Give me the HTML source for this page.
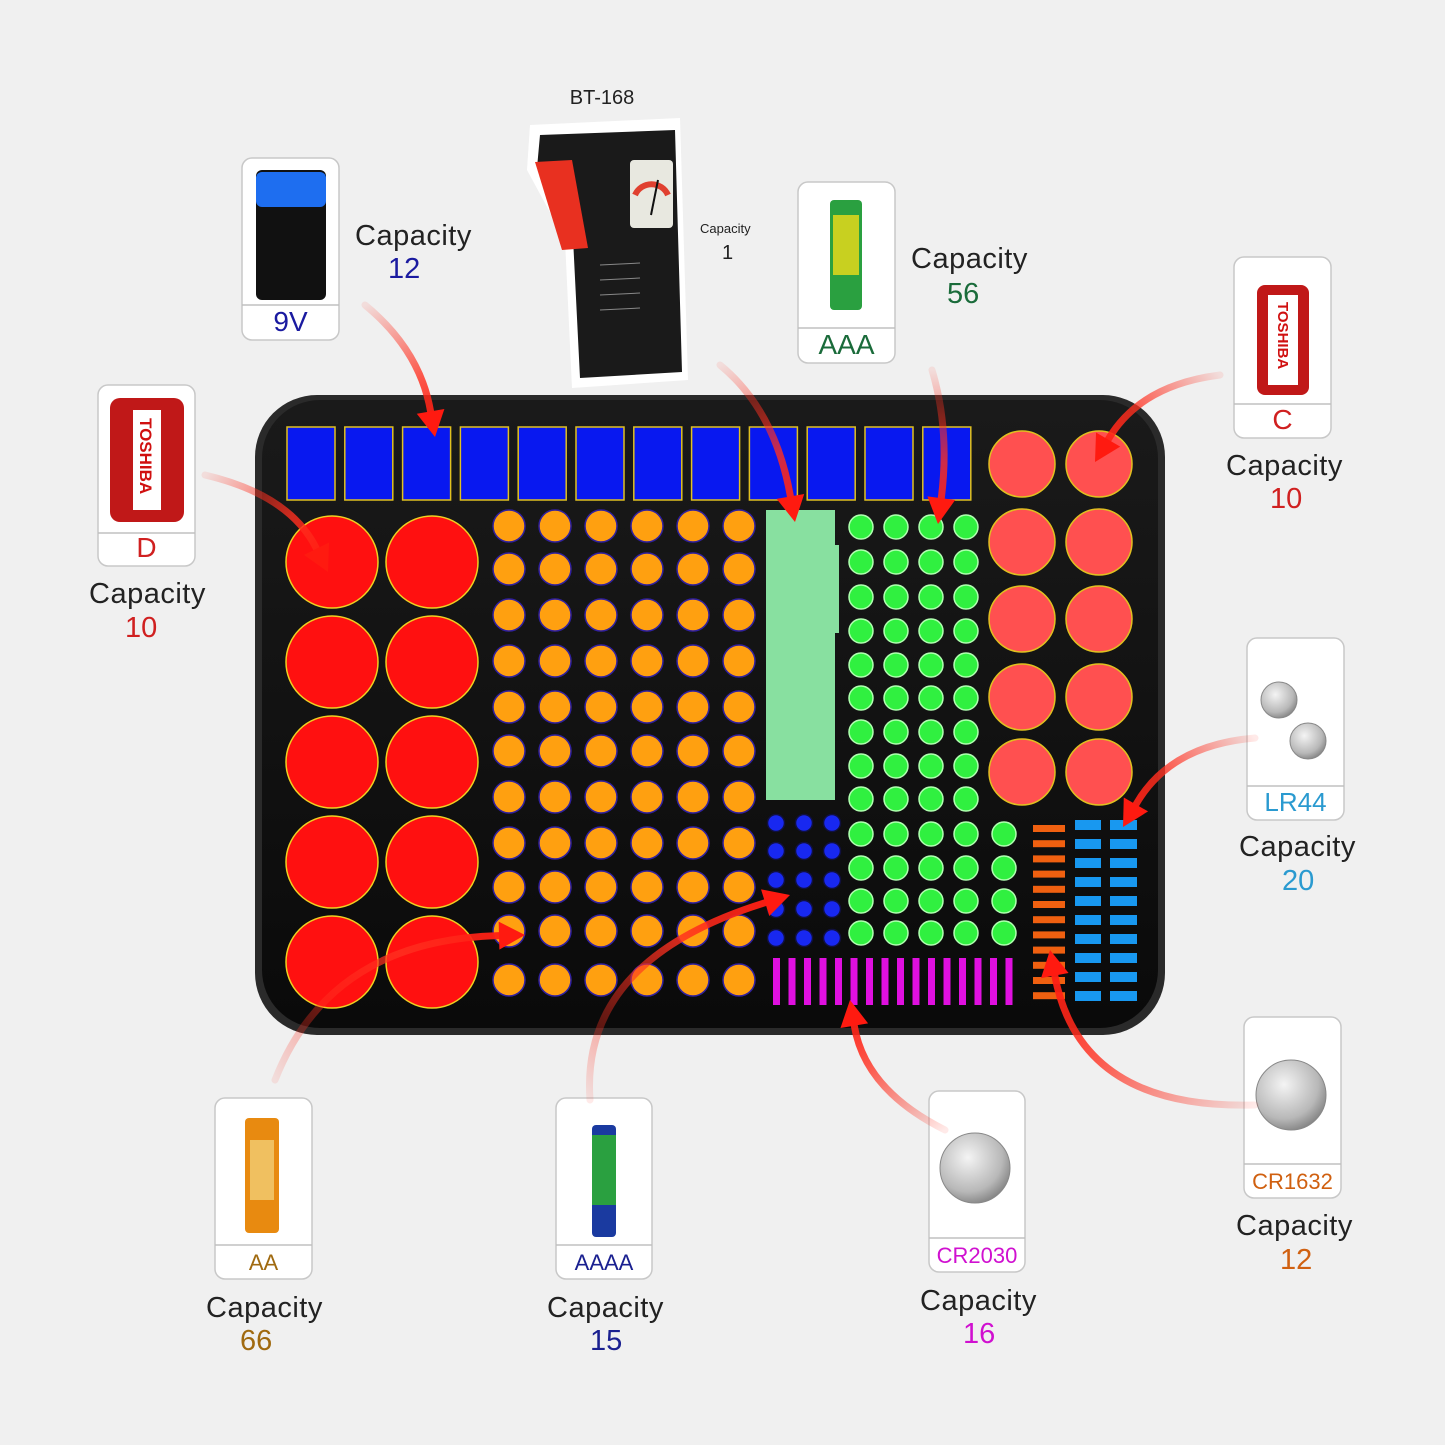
<!DOCTYPE html>
<html><head><meta charset="utf-8">
<style>
html,body{margin:0;padding:0;background:#f0f0f0;}
svg{display:block;}
text{font-family:"Liberation Sans","DejaVu Sans",sans-serif;}
</style></head>
<body>
<svg id="s" width="1445" height="1445" viewBox="0 0 1445 1445" xmlns="http://www.w3.org/2000/svg">
<defs>
<linearGradient id="trayg" x1="0" y1="0" x2="0" y2="1"><stop offset="0" stop-color="#1a1a1a"/><stop offset="1" stop-color="#0a0a0a"/></linearGradient>
<radialGradient id="coin" cx="0.4" cy="0.35" r="0.7"><stop offset="0" stop-color="#f4f4f4"/><stop offset="0.7" stop-color="#b8b8b8"/><stop offset="1" stop-color="#808080"/></radialGradient>
</defs>
<rect width="1445" height="1445" fill="#f0f0f0"/>
<rect x="255" y="395" width="910" height="640" rx="62" fill="#2a2a2a"/>
<rect x="262" y="400" width="896" height="628" rx="58" fill="url(#trayg)"/>
<g id="g"></g>
<g id="cards"></g>
<g id="arrows"></g>
</svg>
<script>
const NS="http://www.w3.org/2000/svg";
const g=document.getElementById('g');
function el(tag,attrs,parent,txt){const e=document.createElementNS(NS,tag);for(const k in attrs)e.setAttribute(k,attrs[k]);if(txt!==undefined)e.textContent=txt;(parent||g).appendChild(e);return e;}
for(let i=0;i<12;i++){el('rect',{x:287+i*57.8,y:427,width:48,height:73,fill:'#0818f0',stroke:'#e0c020','stroke-width':1.5});}
[332,432].forEach(x=>[562,662,762,862,962].forEach(y=>el('circle',{cx:x,cy:y,r:46,fill:'#ff1010',stroke:'#f0d020','stroke-width':1.5})));
const aaY=[526,569,615,661,707,751,797,843,887,931,980];
[509,555,601,647,693,739].forEach(x=>aaY.forEach(y=>el('circle',{cx:x,cy:y,r:16,fill:'#ffa010',stroke:'#3020a0','stroke-width':1.5})));
el('rect',{x:766,y:510,width:69,height:290,fill:'#88e0a0'});
el('rect',{x:831,y:545,width:8,height:88,fill:'#88e0a0'});
const gy=[527,562,597,631,665,698,732,766,799,834,868,901,933];
[861,896,931,966].forEach(x=>gy.forEach(y=>el('circle',{cx:x,cy:y,r:12,fill:'#30f040',stroke:'#b0ffb0','stroke-width':1.5})));
[834,868,901,933].forEach(y=>el('circle',{cx:1004,cy:y,r:12,fill:'#30f040',stroke:'#b0ffb0','stroke-width':1.5}));
[1022,1099].forEach(x=>[464,542,619,697,772].forEach(y=>el('circle',{cx:x,cy:y,r:33,fill:'#ff5050',stroke:'#e0c020','stroke-width':1.5})));
[776,804,832].forEach(x=>[823,851,880,909,938].forEach(y=>el('circle',{cx:x,cy:y,r:8.5,fill:'#1828f0',stroke:'#101040','stroke-width':1.5})));
for(let i=0;i<16;i++)el('rect',{x:773+i*15.5,y:958,width:7,height:47,fill:'#e010e0'});
for(let i=0;i<12;i++)el('rect',{x:1033,y:825+i*15.2,width:32,height:7,fill:'#f06010'});
for(let i=0;i<10;i++){el('rect',{x:1075,y:820+i*19,width:26,height:10,fill:'#1898f0'});el('rect',{x:1110,y:820+i*19,width:27,height:10,fill:'#1898f0'});}

const cg=document.getElementById('cards');
function card(x,y,w,h,div,label,col,cap,capx,capy,num,numx,numy,fs){
 el('rect',{x:x,y:y,width:w,height:h,rx:10,fill:'#fff',stroke:'#c8c8c8','stroke-width':1.5},cg);
 el('line',{x1:x,y1:div,x2:x+w,y2:div,stroke:'#c0c0c0','stroke-width':1.5},cg);
 el('text',{x:x+w/2,y:h+y-9,'text-anchor':'middle','font-size':fs||28,fill:col},cg,label);
 el('text',{x:capx,y:capy,'font-size':29,fill:'#222','letter-spacing':'0.5'},cg,cap);
 el('text',{x:numx,y:numy,'font-size':29,fill:col},cg,num);
}
card(242,158,97,182,305,'9V','#1a1aa0','Capacity',355,245,'12',388,278);
card(798,182,97,181,328,'AAA','#1a6b3a','Capacity',911,268,'56',947,303);
card(1234,257,97,181,404,'C','#d02020','Capacity',1226,475,'10',1270,508);
card(98,385,97,181,533,'D','#d02020','Capacity',89,603,'10',125,637);
card(1247,638,97,182,786,'LR44','#2a9ad0','Capacity',1239,856,'20',1282,890,26);
card(1244,1017,97,181,1164,'CR1632','#d06010','Capacity',1236,1235,'12',1280,1269,22);
card(929,1091,96,181,1238,'CR2030','#d010d0','Capacity',920,1310,'16',963,1343,22);
card(556,1098,96,181,1245,'AAAA','#1a2090','Capacity',547,1317,'15',590,1350,22);
card(215,1098,97,181,1245,'AA','#a06a10','Capacity',206,1317,'66',240,1350,22);
el('rect',{x:256,y:170,width:70,height:130,rx:6,fill:'#111'},cg);el('rect',{x:256,y:172,width:70,height:35,rx:6,fill:'#1e6ef0'},cg);
el('rect',{x:830,y:200,width:32,height:110,rx:4,fill:'#2aa040'},cg);el('rect',{x:833,y:215,width:26,height:60,fill:'#c8d020'},cg);
el('rect',{x:1257,y:285,width:52,height:110,rx:8,fill:'#c01818'},cg);el('rect',{x:1268,y:295,width:30,height:90,fill:'#fff'},cg);
el('text',{x:0,y:0,'font-size':15,fill:'#d01010','font-weight':'bold',transform:'translate(1278,302) rotate(90)'},cg,'TOSHIBA');
el('rect',{x:110,y:398,width:74,height:124,rx:10,fill:'#c01818'},cg);el('rect',{x:133,y:410,width:28,height:100,fill:'#fff'},cg);
el('text',{x:0,y:0,'font-size':17,fill:'#d01010','font-weight':'bold',transform:'translate(140,418) rotate(90)'},cg,'TOSHIBA');
el('circle',{cx:1279,cy:700,r:18,fill:'url(#coin)',stroke:'#888'},cg);el('circle',{cx:1308,cy:741,r:18,fill:'url(#coin)',stroke:'#888'},cg);
el('circle',{cx:1291,cy:1095,r:35,fill:'url(#coin)',stroke:'#888'},cg);
el('circle',{cx:975,cy:1168,r:35,fill:'url(#coin)',stroke:'#888'},cg);
el('rect',{x:592,y:1125,width:24,height:112,rx:4,fill:'#1a3aa0'},cg);el('rect',{x:592,y:1135,width:24,height:70,fill:'#2aa040'},cg);
el('rect',{x:245,y:1118,width:34,height:115,rx:4,fill:'#e88a10'},cg);el('rect',{x:250,y:1140,width:24,height:60,fill:'#f0c060'},cg);
// tester (tilted body)
el('path',{d:'M530 125 L680 118 L688 380 L572 388 L565 240 L527 170 Z',fill:'#fff'},cg);
el('path',{d:'M540 135 L675 130 L682 372 L580 378 L573 238 L537 168 Z',fill:'#1a1a1a'},cg);
el('path',{d:'M535 162 L572 160 L588 248 L562 250 Z',fill:'#e83020'},cg);
el('rect',{x:630,y:160,width:43,height:68,rx:4,fill:'#e8e8e0'},cg);
el('path',{d:'M635 195 A18 18 0 0 1 668 195',fill:'none',stroke:'#e04030','stroke-width':6},cg);
el('line',{x1:651,y1:215,x2:658,y2:180,stroke:'#111','stroke-width':2},cg);
for(let i=0;i<4;i++)el('line',{x1:600,y1:265+i*15,x2:640,y2:263+i*15,stroke:'#888','stroke-width':1},cg);
el('text',{x:602,y:104,'text-anchor':'middle','font-size':20,fill:'#222'},cg,'BT-168');
el('text',{x:700,y:233,'font-size':13,fill:'#222'},cg,'Capacity');
el('text',{x:722,y:259,'font-size':20,fill:'#222'},cg,'1');

const ag=document.getElementById('arrows');const defs=document.querySelector('defs');
let n=0;
function arrow(x1,y1,cx,cy,x2,y2){
 n++;const id='ag'+n;
 const lg=el('linearGradient',{id:id,gradientUnits:'userSpaceOnUse',x1:x1,y1:y1,x2:x2,y2:y2},defs);
 el('stop',{offset:0,'stop-color':'#ff3020','stop-opacity':0.1},lg);el('stop',{offset:0.6,'stop-color':'#ff3020','stop-opacity':0.8},lg);el('stop',{offset:1,'stop-color':'#ff1a10','stop-opacity':1},lg);
 let dx=x2-cx,dy=y2-cy;const L=Math.hypot(dx,dy);dx/=L;dy/=L;
 const bx=x2-dx*26,by=y2-dy*26;
 el('path',{d:`M${x1} ${y1} Q${cx} ${cy} ${bx} ${by}`,fill:'none',stroke:`url(#${id})`,'stroke-width':7,'stroke-linecap':'round'},ag);
 const px=-dy,py=dx;
 el('path',{d:`M${x2} ${y2} L${bx+px*14} ${by+py*14} L${bx-px*14} ${by-py*14} Z`,fill:'#ff1a10'},ag);
}
arrow(365,305,420,350,435,437);
arrow(720,365,775,410,795,522);
arrow(932,370,950,430,938,524);
arrow(1220,375,1140,385,1095,462);
arrow(205,475,290,495,328,572);
arrow(1255,738,1170,745,1123,827);
arrow(1255,1105,1080,1110,1050,950);
arrow(945,1130,865,1090,850,1000);
arrow(590,1100,580,960,790,895);
arrow(275,1080,330,940,525,935);
</script>
</body></html>
